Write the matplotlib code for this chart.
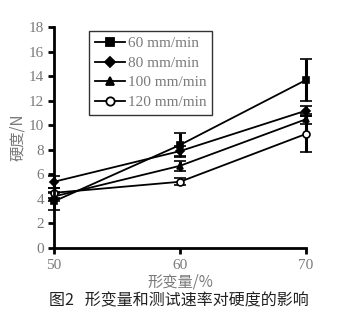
import matplotlib
matplotlib.use("Agg")
import matplotlib.pyplot as plt
from matplotlib.lines import Line2D

plt.rcParams['font.family'] = ['Liberation Serif', 'Noto Sans CJK SC', 'DejaVu Sans']

x = [50, 60, 70]
labels = ["60 mm/min", "80 mm/min", "100 mm/min", "120 mm/min"]
markers = ["s", "D", "^", "o"]
y60 = [3.8, 8.4, 13.7]
y80 = [5.4, 7.9, 11.2]
y100 = [4.2, 6.7, 10.5]
y120 = [4.5, 5.4, 9.3]
e60 = [0.7, 1.0, 1.7]
e80 = [0.5, 0.4, 0.4]
e100 = [0.4, 0.4, 0.4]
e120 = [0.4, 0.3, 1.5]
xticks = [50, 60, 70]
yticks = list(range(0, 19, 2))

tc = '#7a7a7a'
fig = plt.figure(figsize=(3.57, 3.27), dpi=100)
ax = fig.add_axes([0.151, 0.2416, 0.706, 0.675])

handles = []
for ys, es, m, lab in zip([y60, y80, y100, y120], [e60, e80, e100, e120], markers, labels):
    ms = 5 if m != "D" else 4
    mfc = 'white' if m == 'o' else 'black'
    ax.errorbar(x, ys, yerr=es, color='black', marker=m, ms=ms, mfc=mfc,
                mec='black', mew=1.2, lw=1.3, elinewidth=2.2, capsize=4,
                capthick=1.8, clip_on=False)
    handles.append(Line2D([], [], color='black', marker=m, ms=ms + 1, mfc=mfc,
                          mec='black', mew=1.3, lw=1.3, label=lab))

ax.set_xlim(50, 70)
ax.set_ylim(0, 18)
ax.set_xticks(xticks)
ax.set_yticks(yticks)
for s in ['top', 'right']:
    ax.spines[s].set_visible(False)
for s in ['left', 'bottom']:
    ax.spines[s].set_linewidth(2)
ax.tick_params(direction='out', length=4, width=2, labelsize=11, labelcolor=tc, pad=3)
ax.tick_params(axis='x', pad=4)

ax.set_ylabel('硬度/N', fontsize=11, color=tc, family=['Noto Sans CJK SC'], labelpad=2)
ax.set_xlabel('形变量/%', fontsize=11, color=tc, family=['Noto Sans CJK SC', 'Liberation Serif'], labelpad=1)

leg = ax.legend(handles=handles, loc='upper left', bbox_to_anchor=(0.138, 0.985), fontsize=11,
                frameon=True, fancybox=False, edgecolor='black', handlelength=2.0,
                handletextpad=0.15, labelspacing=0.38, borderpad=0.4, borderaxespad=0)
leg.get_frame().set_linewidth(1.0)
for t in leg.get_texts():
    t.set_color(tc)

fig.text(0.5, 0.08, '图2   形变量和测试速率对硬度的影响', ha='center', va='center',
         fontsize=11.5, color='#222222', family=['Noto Sans CJK SC', 'DejaVu Sans'])

fig.savefig('out.png', dpi=100)
